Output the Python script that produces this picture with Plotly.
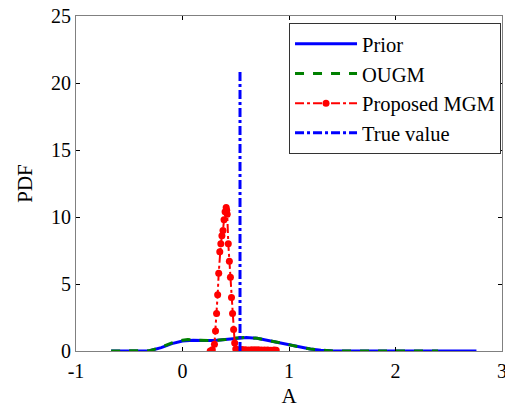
import plotly.graph_objects as go

# Prior PDF
prior_x = [-0.67, -0.5, -0.31, -0.2, -0.1, 0.0, 0.1, 0.2, 0.3, 0.4, 0.5, 0.6, 0.7, 0.8, 0.9,
           1.0, 1.1, 1.2, 1.3, 1.4, 1.6, 2.0, 2.4, 2.76]
prior_y = [0, 0, 0.02, 0.25, 0.55, 0.75, 0.8, 0.78, 0.78, 0.85, 0.95, 1.0, 0.95, 0.8, 0.6,
           0.45, 0.3, 0.15, 0.06, 0.01, 0, 0, 0, 0]

# OUGM PDF
ougm_x = [-0.67, -0.5, -0.31, -0.2, -0.1, 0.0, 0.05, 0.1, 0.2, 0.3, 0.4, 0.5, 0.6, 0.7, 0.8, 0.9,
          1.0, 1.1, 1.2, 1.3, 1.4, 1.6, 2.0, 2.4]
ougm_y = [0, 0, 0.02, 0.28, 0.6, 0.8, 0.85, 0.82, 0.78, 0.78, 0.85, 0.97, 1.02, 0.95, 0.8, 0.62,
          0.45, 0.3, 0.15, 0.06, 0.01, 0, 0, 0]

# Proposed MGM PDF
mgm_x = [0.26, 0.28, 0.30, 0.31, 0.32, 0.33, 0.34, 0.35, 0.36, 0.37, 0.38, 0.39, 0.40, 0.41,
         0.415, 0.42, 0.43, 0.44, 0.45, 0.46, 0.47, 0.48, 0.49, 0.50, 0.51, 0.53, 0.56, 0.59,
         0.62, 0.65, 0.68, 0.71, 0.74, 0.77, 0.80, 0.83, 0.86, 0.88]
mgm_y = [0.0, 0.1, 0.5, 1.5, 2.8, 4.2, 5.8, 7.4, 8.0, 8.6, 9.0, 9.8, 10.4, 10.7,
         10.5, 10.2, 8.0, 6.7, 5.5, 4.0, 2.8, 1.6, 0.6, 0.15, 0.08, 0.1, 0.12, 0.1,
         0.08, 0.1, 0.09, 0.1, 0.08, 0.07, 0.08, 0.06, 0.07, 0.05]

# True value
true_x = [0.54, 0.54]
true_y = [0, 21]

x_ticks = [-1, 0, 1, 2, 3]
x_tick_labels = ["-1", "0", "1", "2", "3"]
y_ticks = [0, 5, 10, 15, 20, 25]

font = "Liberation Serif"

fig = go.Figure()
fig.add_trace(go.Scatter(x=prior_x, y=prior_y, mode="lines", name="Prior",
                         line=dict(color="#0000ff", width=3)))
fig.add_trace(go.Scatter(x=ougm_x, y=ougm_y, mode="lines", name="OUGM",
                         line=dict(color="#008000", width=3, dash="dash")))
fig.add_trace(go.Scatter(x=mgm_x, y=mgm_y, mode="lines+markers", name="Proposed MGM",
                         line=dict(color="#ff0000", width=2, dash="dashdot"),
                         marker=dict(symbol="circle", size=7, color="#ff0000")))
fig.add_trace(go.Scatter(x=true_x, y=true_y, mode="lines", name="True value",
                         line=dict(color="#0000ff", width=3, dash="dashdot")))

axis_common = dict(showline=True, linecolor="#808080", linewidth=1, mirror="ticks",
                   ticks="inside", ticklen=4, tickcolor="black", showgrid=False,
                   zeroline=False, ticklabeloverflow="allow",
                   tickfont=dict(family=font, size=20, color="black"))

fig.update_xaxes(range=[-1, 3], tickvals=x_ticks, ticktext=x_tick_labels, **axis_common,
                 ticklabelstandoff=2,
                 title=dict(text="A", font=dict(family=font, size=21, color="black"), standoff=7))
fig.update_yaxes(range=[0, 25], tickvals=y_ticks, **axis_common,
                 title=dict(text="PDF", font=dict(family=font, size=21, color="black"), standoff=12))

# the page body adds an 8px offset, so the figure is sized to fit the 513x410 window
fig.update_layout(
    width=505, height=402,
    margin=dict(l=68, r=11, t=8, b=59, autoexpand=False),
    paper_bgcolor="white", plot_bgcolor="white",
    showlegend=True,
    legend=dict(x=0.9977, y=0.979, xanchor="right", yanchor="top",
                bgcolor="white", bordercolor="#333333", borderwidth=1,
                font=dict(family=font, size=20.5, color="black"),
                itemwidth=62),
)

fig.write_html("out.html")
